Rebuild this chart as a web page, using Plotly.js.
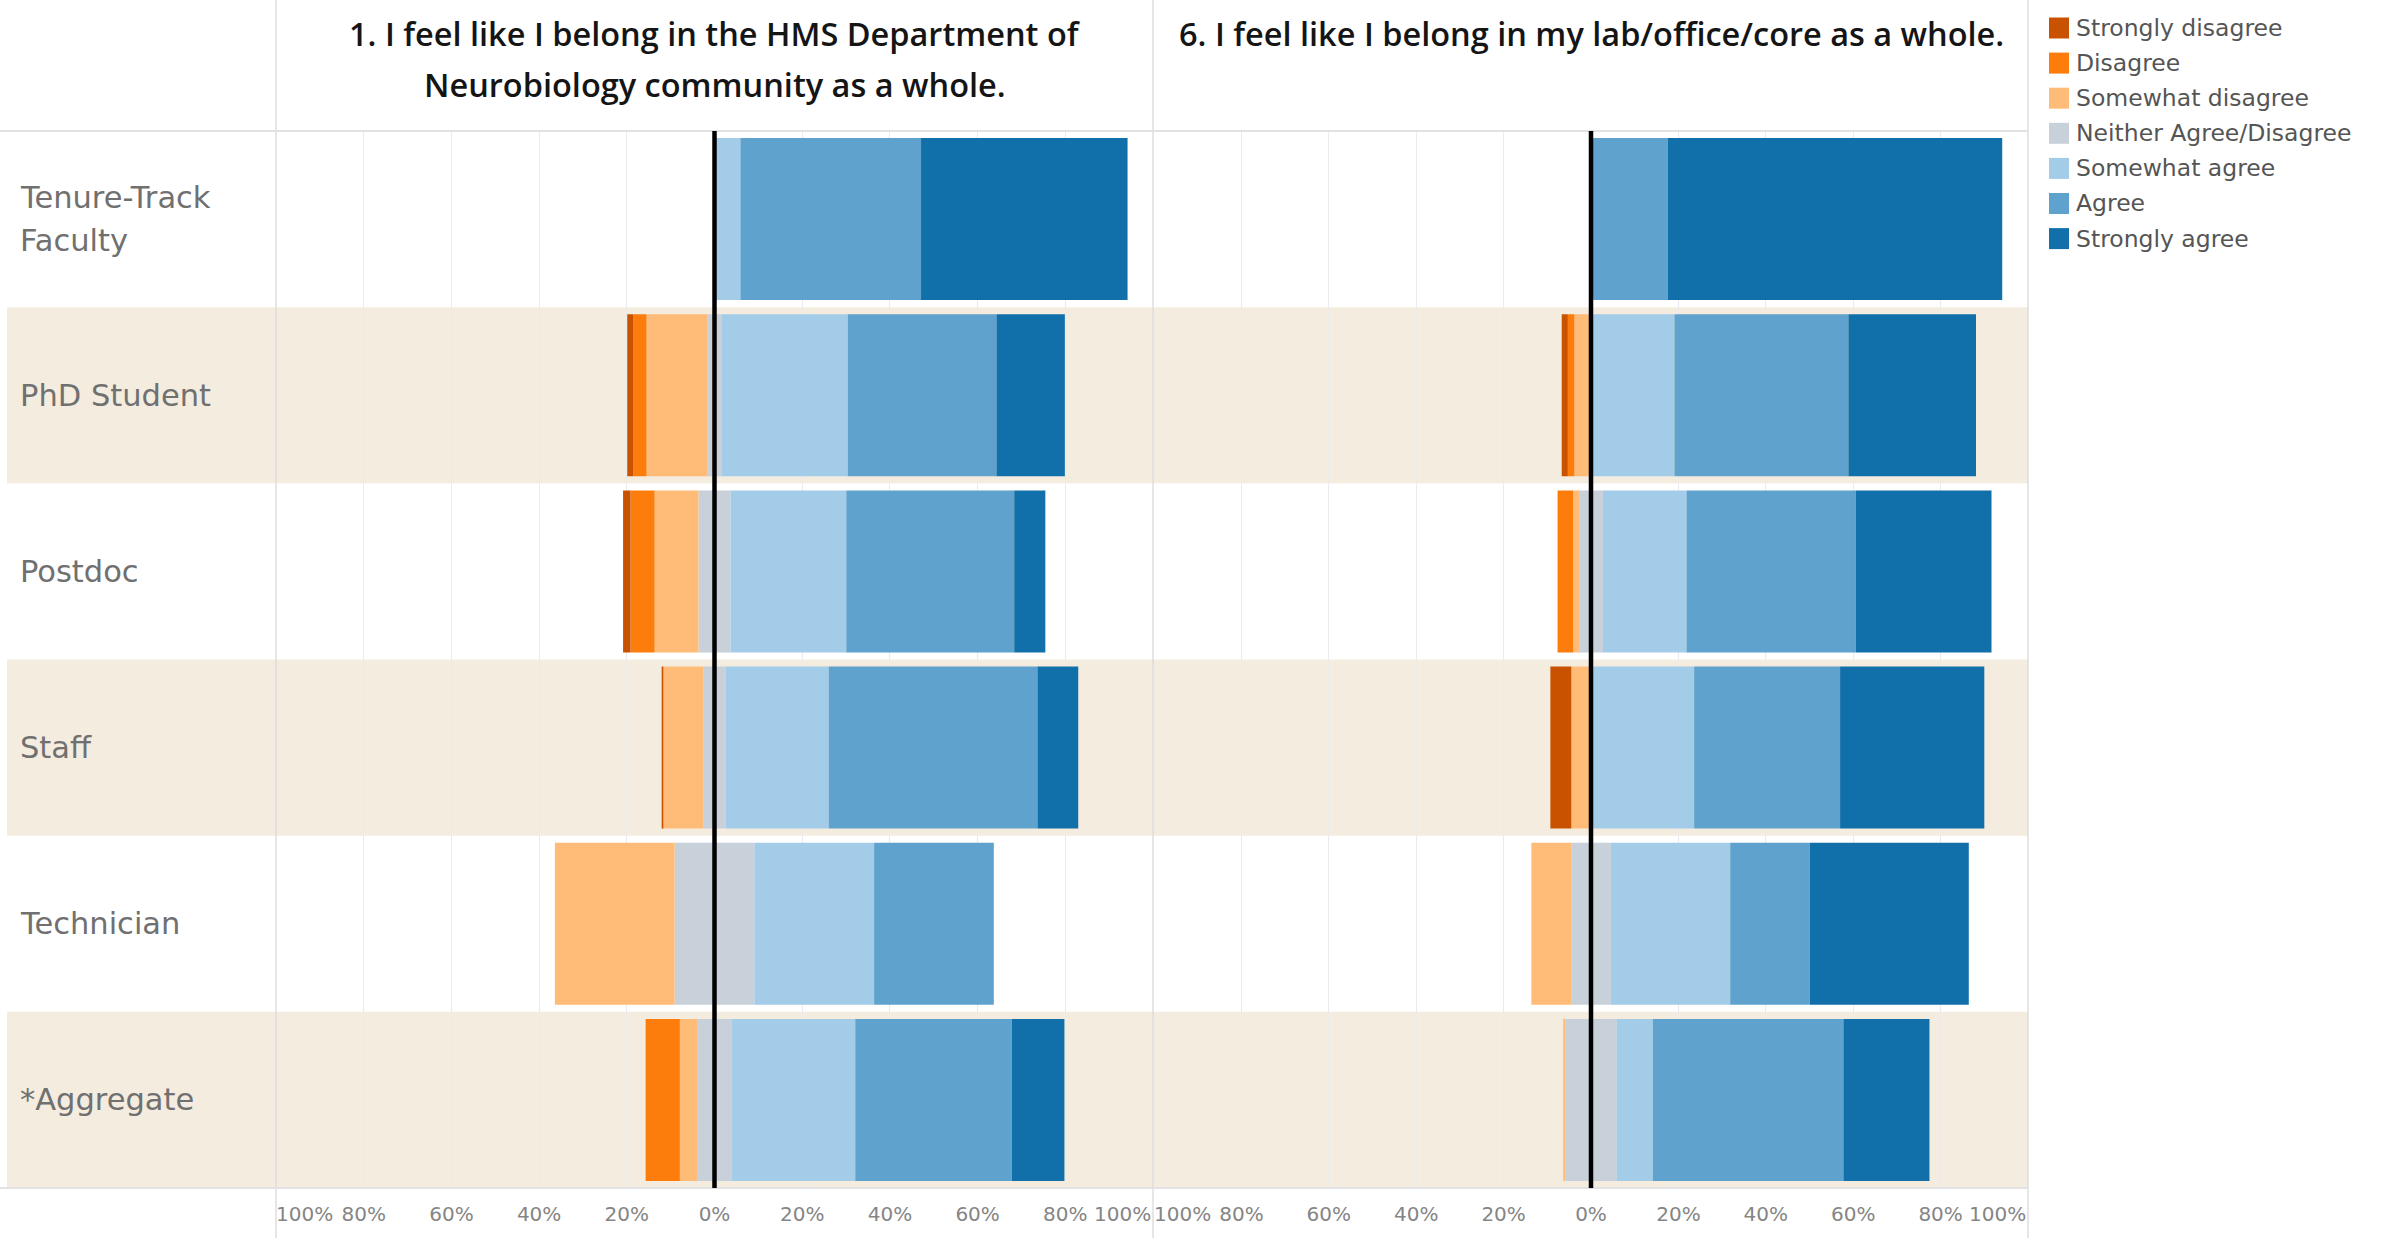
<!DOCTYPE html>
<html>
<head>
<meta charset="utf-8">
<script src="https://cdn.plot.ly/plotly-3.0.1.min.js"></script>
<style>
  html, body { margin: 0; padding: 0; background: #ffffff; }
  #chart { width: 2394px; height: 1238px; }
</style>
</head>
<body>
<div id="chart"></div>
<script>
// ---------------- DATA ----------------
const categories = ['Tenure-Track Faculty', 'PhD Student', 'Postdoc', 'Staff', 'Technician', '*Aggregate'];
const rowLabels = ['Tenure-Track<br>Faculty', 'PhD Student', 'Postdoc', 'Staff', 'Technician', '*Aggregate'];
const responses = ['Strongly disagree', 'Disagree', 'Somewhat disagree', 'Neither Agree/Disagree',
                   'Somewhat agree', 'Agree', 'Strongly agree'];
const responseColors = ['#c85200', '#fc7d0b', '#ffbc79', '#c8d0d9', '#a3cce9', '#5fa2ce', '#1170aa'];

const q1TitleLines = ['1. I feel like I belong in the HMS Department of', 'Neurobiology community as a whole.'];
const q6TitleLines = ['6. I feel like I belong in my lab/office/core as a whole.'];

const tickValues = [-0.8, -0.6, -0.4, -0.2, 0, 0.2, 0.4, 0.6, 0.8];
const tickLabels = ['80%', '60%', '40%', '20%', '0%', '20%', '40%', '60%', '80%'];
const edgeTickLabel = '100%';

// Question 1 (% of respondents), per category
const q1StronglyDisagree = [0, 1.4, 1.7, 0.4, 0, 0];
const q1Disagree         = [0, 3.0, 5.5, 0, 0, 7.8];
const q1SomewhatDisagree = [0, 13.9, 10.0, 9.1, 27.3, 3.9];
const q1Neither          = [0, 3.2, 7.3, 5.1, 18.2, 8.0];
const q1SomewhatAgree    = [5.9, 28.8, 26.4, 23.5, 27.3, 28.1];
const q1Agree            = [41.2, 33.9, 38.3, 47.6, 27.3, 35.7];
const q1StronglyAgree    = [47.1, 15.6, 7.1, 9.3, 0, 12.0];

// Question 6 (% of respondents), per category
const q6StronglyDisagree = [0, 1.4, 0, 4.8, 0, 0];
const q6Disagree         = [0, 1.5, 3.6, 0, 0, 0];
const q6SomewhatDisagree = [0, 3.8, 1.3, 4.5, 9.1, 0.5];
const q6Neither          = [0, 0, 5.5, 0, 9.1, 11.7];
const q6SomewhatAgree    = [0, 19.1, 19.1, 23.6, 27.3, 8.3];
const q6Agree            = [17.6, 39.8, 38.7, 33.4, 18.2, 43.6];
const q6StronglyAgree    = [76.5, 29.2, 31.1, 33.0, 36.4, 19.7];

const q1Values = [q1StronglyDisagree, q1Disagree, q1SomewhatDisagree, q1Neither, q1SomewhatAgree, q1Agree, q1StronglyAgree];
const q6Values = [q6StronglyDisagree, q6Disagree, q6SomewhatDisagree, q6Neither, q6SomewhatAgree, q6Agree, q6StronglyAgree];

// ---------------- GEOMETRY / STYLE ----------------
const W = 2394, H = 1238;
const px = v => v / W;
const py = v => 1 - v / H;
const rowTop = 131, rowBottom = 1188;
const FONT = 'DejaVu Sans, Verdana, sans-serif';
const TITLE_FONT = 'Open Sans, Noto Sans, sans-serif';
const lineColor = '#dedede';
const bandColor = '#f4ecdf';

function barTrace(x, r, xa) {
  return {
    type: 'bar', orientation: 'h',
    y: categories, x: x,
    xaxis: xa, yaxis: 'y',
    name: responses[r],
    marker: { color: responseColors[r], line: { width: 0 } },
    showlegend: false,
    hovertemplate: '%{y}<br>' + responses[r] + '<extra></extra>'
  };
}

function panelTraces(vals, xa) {
  const t = [];
  // negative side, from zero outward: neutral half, somewhat, disagree, strongly
  t.push(barTrace(vals[3].map(v => -v / 200), 3, xa));
  [2, 1, 0].forEach(r => t.push(barTrace(vals[r].map(v => -v / 100), r, xa)));
  // positive side, from zero outward: neutral half, somewhat, agree, strongly
  t.push(barTrace(vals[3].map(v => v / 200), 3, xa));
  [4, 5, 6].forEach(r => t.push(barTrace(vals[r].map(v => v / 100), r, xa)));
  return t;
}

const data = [...panelTraces(q1Values, 'x'), ...panelTraces(q6Values, 'x2')];

const xaxisBase = {
  range: [-1, 1],
  tickmode: 'array', tickvals: tickValues, ticktext: tickLabels,
  showgrid: true, gridcolor: '#ebebeb', gridwidth: 1,
  zeroline: false, showline: false, ticks: '',
  tickfont: { family: FONT, size: 20, color: '#858585' },
  ticklabelstandoff: 12,
  fixedrange: true, anchor: 'y'
};

const shapes = [];
// alternating beige row bands
categories.forEach((c, i) => {
  if (i % 2 === 1) {
    shapes.push({ type: 'rect', layer: 'below', xref: 'paper', yref: 'y',
      x0: px(7), x1: px(2028), y0: i - 0.5, y1: i + 0.5,
      fillcolor: bandColor, line: { width: 0 } });
  }
});
// frame lines
[276, 1153, 2028].forEach(xv => shapes.push({ type: 'line', layer: 'above', xref: 'paper', yref: 'paper',
  x0: px(xv), x1: px(xv), y0: 0, y1: 1, line: { color: lineColor, width: 1.5 } }));
[rowTop, rowBottom].forEach(yv => shapes.push({ type: 'line', layer: 'above', xref: 'paper', yref: 'paper',
  x0: 0, x1: px(2028), y0: py(yv), y1: py(yv), line: { color: '#e2e2e2', width: 2 } }));
// zero lines
['x', 'x2'].forEach(xr => shapes.push({ type: 'line', layer: 'above', xref: xr, yref: 'paper',
  x0: 0, x1: 0, y0: py(rowBottom), y1: py(rowTop), line: { color: '#000000', width: 4.5 } }));

const annotations = [];
// question titles
q1TitleLines.forEach((t, i) => annotations.push({ text: t, xref: 'x domain', yref: 'paper',
  x: 0.5, y: py(34 + 50 * i), xanchor: 'center', yanchor: 'middle', showarrow: false,
  font: { family: TITLE_FONT, size: 32.5, weight: 600, color: '#151515' } }));
q6TitleLines.forEach((t, i) => annotations.push({ text: t, xref: 'x2 domain', yref: 'paper',
  x: 0.5, y: py(34 + 50 * i), xanchor: 'center', yanchor: 'middle', showarrow: false,
  font: { family: TITLE_FONT, size: 32.5, weight: 600, color: '#151515' } }));
// row labels
rowLabels.forEach((lab, i) => {
  const lines = lab.split('<br>');
  lines.forEach((ln, j) => annotations.push({ text: ln, xref: 'paper', yref: 'y',
    x: px(18), y: categories[i], xanchor: 'left', yanchor: 'middle', align: 'left',
    yshift: -((j - (lines.length - 1) / 2) * 43), showarrow: false,
    font: { family: FONT, size: 30.5, color: '#707070' } }));
});
// edge tick labels (100%) aligned inside each panel
['x', 'x2'].forEach(xr => {
  annotations.push({ text: edgeTickLabel, xref: xr, yref: 'paper', x: -1, y: py(1214),
    xanchor: 'left', yanchor: 'middle', showarrow: false, xshift: -2,
    font: { family: FONT, size: 20, color: '#858585' } });
  annotations.push({ text: edgeTickLabel, xref: xr, yref: 'paper', x: 1, y: py(1214),
    xanchor: 'right', yanchor: 'middle', showarrow: false, xshift: 0,
    font: { family: FONT, size: 20, color: '#858585' } });
});
// legend (colour key)
responses.forEach((r, i) => {
  const yc = 28 + 35.1 * i;
  shapes.push({ type: 'rect', layer: 'above', xref: 'paper', yref: 'paper',
    x0: px(2049), x1: px(2069), y0: py(yc + 10.5), y1: py(yc - 10.5),
    fillcolor: responseColors[i], line: { width: 0 } });
  annotations.push({ text: r, xref: 'paper', yref: 'paper', x: px(2074), y: py(yc),
    xanchor: 'left', yanchor: 'middle', showarrow: false,
    font: { family: FONT, size: 23.5, color: '#555555' } });
});

const layout = {
  width: W, height: H,
  margin: { l: 0, r: 0, t: 0, b: 0, pad: 0 },
  paper_bgcolor: '#ffffff', plot_bgcolor: 'rgba(0,0,0,0)',
  font: { family: FONT },
  barmode: 'relative', bargap: 0.08,
  showlegend: false,
  xaxis: Object.assign({}, xaxisBase, { domain: [px(276), px(1153)] }),
  xaxis2: Object.assign({}, xaxisBase, { domain: [px(1154), px(2028)] }),
  yaxis: { domain: [py(rowBottom), py(rowTop)], type: 'category',
    categoryorder: 'array', categoryarray: categories, range: [5.5, -0.5],
    showticklabels: false, showgrid: false, zeroline: false, showline: false, fixedrange: true },
  shapes: shapes,
  annotations: annotations
};

Plotly.newPlot('chart', data, layout, { displayModeBar: false, staticPlot: true });
</script>
</body>
</html>
